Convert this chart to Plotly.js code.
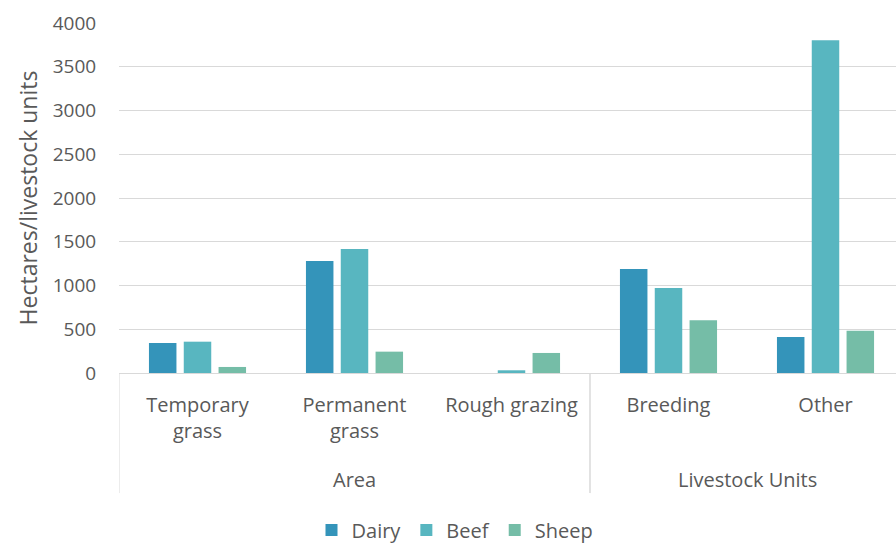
<!DOCTYPE html>
<html>
<head>
<meta charset="utf-8">
<script src="https://cdn.plot.ly/plotly-3.0.1.min.js"></script>
<style>html,body{margin:0;padding:0;background:#fff;}#chart{width:896px;height:544px;}</style>
</head>
<body>
<div id="chart"></div>
<script>
var groups = ["Area", "Area", "Area", "Livestock Units", "Livestock Units"];
var categories = ["Temporary<br>grass", "Permanent<br>grass", "Rough grazing", "Breeding", "Other"];
var dairy = [343, 1280, 0, 1189, 411];
var beef = [358, 1417, 31, 971, 3802];
var sheep = [69, 244, 229, 602, 484];
var seriesNames = ["Dairy", "Beef", "Sheep"];
var colors = ["#3494BA", "#58B6C0", "#75BDA7"];

var txt = "#595959";
var grid = "#D9D9D9";
var font = "Open Sans, sans-serif";
var vals = [dairy, beef, sheep];
var traces = vals.map(function (v, i) {
  return {
    type: "bar",
    name: seriesNames[i],
    x: categories,
    y: v,
    marker: {color: colors[i], line: {width: 0}},
    hoverinfo: "y+name"
  };
});

// group labels and dividers, placed through the category axis
var groupNames = [];
groups.forEach(function (g) { if (groupNames.indexOf(g) < 0) groupNames.push(g); });
var annotations = [];
var shapes = [];
var divBottom = -0.343;
groupNames.forEach(function (g) {
  var idx = [];
  groups.forEach(function (gg, i) { if (gg === g) idx.push(i); });
  var mid = (idx[0] + idx[idx.length - 1]) / 2;
  annotations.push({
    text: g, xref: "x", yref: "paper", x: mid, y: -0.303,
    xanchor: "center", yanchor: "middle", showarrow: false,
    font: {size: 20, color: txt}
  });
  [idx[0] - 0.5, idx[idx.length - 1] + 0.5].forEach(function (xb) {
    shapes.push({
      type: "line", xref: "x", yref: "paper", x0: xb, x1: xb, y0: 0, y1: divBottom,
      line: {color: grid, width: 1}
    });
  });
});

var layout = {
  width: 896, height: 544,
  margin: {l: 119, r: 0, t: 23, b: 171, autoexpand: false},
  paper_bgcolor: "#fff", plot_bgcolor: "#fff",
  font: {family: font, color: txt, size: 20},
  barmode: "group",
  bargap: 0.335,
  bargroupgap: 0.21,
  showlegend: true,
  legend: {
    orientation: "h", xref: "container", yref: "container",
    x: 455 / 896, xanchor: "center", y: 1 - 530 / 544, yanchor: "middle",
    font: {size: 20, color: txt}, itemwidth: 30, traceorder: "normal"
  },
  annotations: annotations,
  shapes: shapes,
  xaxis: {
    type: "category",
    range: [-0.5, 4.449],
    automargin: false,
    showgrid: false,
    showline: true, linecolor: grid, linewidth: 1,
    ticks: "outside", ticklen: 14, tickcolor: "rgba(0,0,0,0)",
    tickfont: {size: 20, color: txt},
    zeroline: false
  },
  yaxis: {
    range: [0, 4000], dtick: 500,
    automargin: false,
    showgrid: true, gridcolor: grid, gridwidth: 1,
    zeroline: true, zerolinecolor: grid,
    ticks: "outside", ticklen: 18, tickcolor: "rgba(0,0,0,0)",
    tickfont: {size: 19, color: txt},
    title: {text: "Hectares/livestock units", font: {size: 23, color: txt}, standoff: 8}
  }
};

Plotly.newPlot("chart", traces, layout, {displayModeBar: false, staticPlot: true});
</script>
</body>
</html>
